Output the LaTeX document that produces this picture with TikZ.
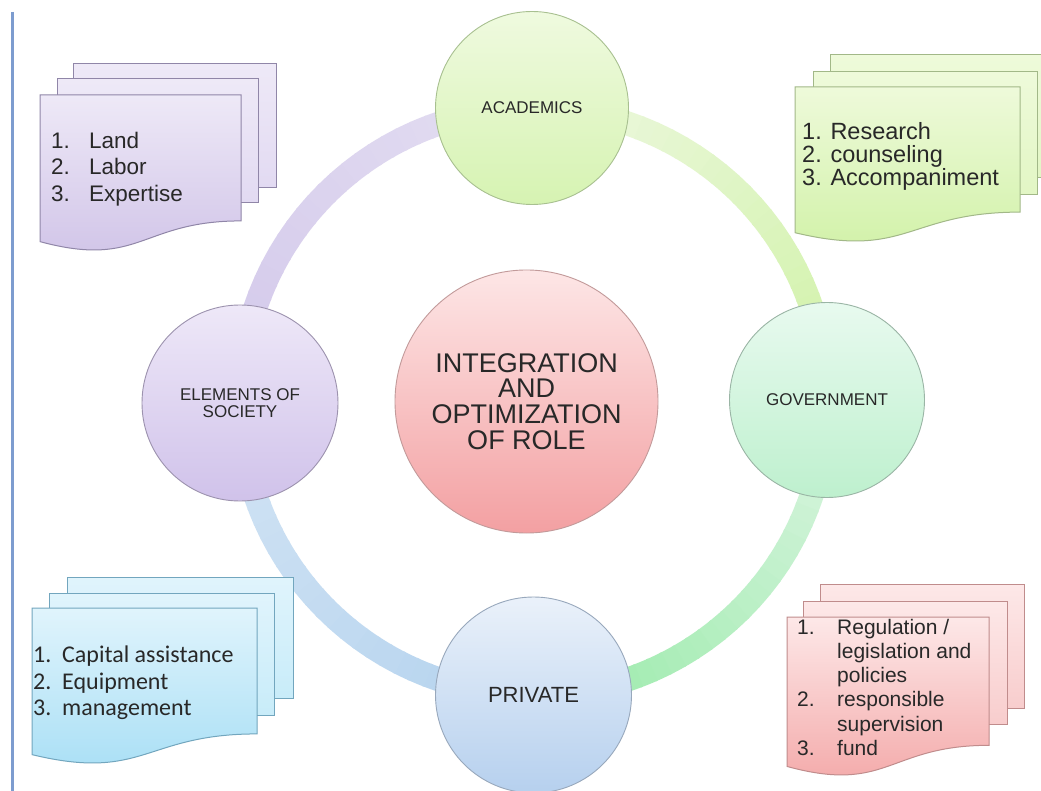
\documentclass[tikz,border=0pt]{standalone}
\usepackage{fontspec}
\setmainfont{Liberation Sans}
\newfontfamily\calib{Carlito}
\definecolor{txt}{HTML}{282828}
% sheets
\definecolor{pB}{HTML}{9086A8}\definecolor{pT}{HTML}{EEE9F7}\definecolor{pM}{HTML}{E2DAF2}\definecolor{pD}{HTML}{CFC2E7}
\definecolor{gB}{HTML}{A2B888}\definecolor{gT}{HTML}{EEFADA}\definecolor{gM}{HTML}{E2F6C4}\definecolor{gD}{HTML}{D0F1A6}
\definecolor{bB}{HTML}{72A6BE}\definecolor{bT}{HTML}{E0F4FC}\definecolor{bM}{HTML}{C8ECF9}\definecolor{bD}{HTML}{A6DEF5}
\definecolor{rB}{HTML}{C08C8C}\definecolor{rT}{HTML}{FDE8E8}\definecolor{rM}{HTML}{F8CDCD}\definecolor{rD}{HTML}{F3A6A6}
% circles
\definecolor{acT}{HTML}{EFFADF}\definecolor{acD}{HTML}{D6F3B2}\definecolor{acB}{HTML}{A8C090}
\definecolor{elT}{HTML}{EEE8F8}\definecolor{elD}{HTML}{D0C2EA}\definecolor{elB}{HTML}{9C92AE}
\definecolor{goT}{HTML}{E8FAEF}\definecolor{goD}{HTML}{BEF0CE}\definecolor{goB}{HTML}{9AB5A5}
\definecolor{prT}{HTML}{EAF1FA}\definecolor{prD}{HTML}{B6D0EE}\definecolor{prB}{HTML}{98A8BC}
\definecolor{ceT}{HTML}{FDE6E6}\definecolor{ceD}{HTML}{F3A0A2}\definecolor{ceB}{HTML}{C29A9A}
% ring
\definecolor{rl1}{HTML}{D2C8EA}\definecolor{rl2}{HTML}{E4DEF2}
\definecolor{ry1}{HTML}{EEF8E2}\definecolor{ry2}{HTML}{D0F2A6}
\definecolor{rg1}{HTML}{DCF5E2}\definecolor{rg2}{HTML}{98EAA8}
\definecolor{rb1}{HTML}{B4D2EE}\definecolor{rb2}{HTML}{D2E4F4}
\definecolor{edge}{HTML}{7D9CCF}

% #1 style, #2 left, #3 top, #4 width, #5 height
\newcommand\frontdoc[5]{%
  \path[#1] (#2,#3) -- ({#2+#4},#3) -- ({#2+#4},{#3+0.802*#5})
    .. controls ({#2+0.5*#4},{#3+0.802*#5}) and ({#2+0.5*#4},{#3+1.107*#5}) ..
    (#2,{#3+0.934*#5}) -- cycle;}
% #1 start angle, #2 end angle, #3 start colour, #4 end colour
\newcommand\ringseg[4]{%
  \foreach \i in {0,...,29}{%
    \pgfmathsetmacro\aa{#1+(#2-#1)*\i/30}%
    \pgfmathsetmacro\bb{#1+(#2-#1)*(\i+1)/30+0.4}%
    \pgfmathtruncatemacro\pp{100-100*\i/29}%
    \draw[ringline, color=#3!\pp!#4] (ctr) ++(\aa:293.5) arc[start angle=\aa, end angle=\bb, radius=293.5];
  }}

\begin{document}
\begin{tikzpicture}[x=1pt,y=-1pt,
  ringline/.style={line width=24pt},
  bubble/.style={circle, inner sep=0pt, line width=0.9pt, align=center, text=txt},
  sheetline/.style={line width=1pt},
  listtext/.style={inner sep=0pt, align=left, text=txt, anchor=west}]
\useasboundingbox (0,0) rectangle (1041,791);
\clip (0,0) rectangle (1041,791);
\fill[white] (0,0) rectangle (1041,791);

% left edge line
\coordinate (e1) at (12,12);
\coordinate (e2) at (12,791);
\draw[edge, line width=3pt] (e1) -- (e2);

% ring
\coordinate (ctr) at (533.5,401.5);
\ringseg{180}{270}{rl1}{rl2}
\ringseg{270}{360}{ry1}{ry2}
\ringseg{0}{90}{rg1}{rg2}
\ringseg{90}{180}{rb1}{rb2}

% circles
\node[bubble, minimum size=263pt, draw=ceB, top color=ceT, bottom color=ceD,
      font=\fontsize{27}{25.7}\selectfont] (center) at (526.5,401.5)
      {INTEGRATION\\AND\\OPTIMIZATION\\OF ROLE};
\node[bubble, minimum size=193pt, draw=acB, top color=acT, bottom color=acD,
      font=\fontsize{17}{17}\selectfont] (acad) at (532,108) {ACADEMICS};
\node[bubble, minimum size=196pt, draw=elB, top color=elT, bottom color=elD,
      font=\fontsize{17}{17}\selectfont] (elem) at (240,403) {ELEMENTS OF\\SOCIETY};
\node[bubble, minimum size=195pt, draw=goB, top color=goT, bottom color=goD,
      font=\fontsize{17}{17}\selectfont] (gov) at (827,400) {GOVERNMENT};
\node[bubble, minimum size=196pt, draw=prB, top color=prT, bottom color=prD,
      font=\fontsize{22}{22}\selectfont] (priv) at (533.5,695) {PRIVATE};

% top-left sheets (purple)
\path[sheetline, draw=pB, top color=pT, bottom color=pM] (73,64) rectangle (276,188);
\path[sheetline, draw=pB, top color=pT, bottom color=pM] (57,79) rectangle (258,203);
\frontdoc{sheetline, draw=pB, top color=pT, bottom color=pD}{40}{95}{201}{157}
\node[listtext, font=\fontsize{22.5}{26.5}\selectfont] (tltext) at (51,168.8)
  {\makebox[38pt][l]{1.}Land\\\makebox[38pt][l]{2.}Labor\\\makebox[38pt][l]{3.}Expertise};

% top-right sheets (green)
\path[sheetline, draw=gB, top color=gT, bottom color=gM] (830,55) rectangle (1055,178);
\path[sheetline, draw=gB, top color=gT, bottom color=gM] (813,72) rectangle (1037,195);
\frontdoc{sheetline, draw=gB, top color=gT, bottom color=gD}{795}{87}{225}{156}
\node[listtext, font=\fontsize{23.5}{23}\selectfont] (trtext) at (802,156.8)
  {1. Research\\2. counseling\\3. Accompaniment};

% bottom-left sheets (blue)
\path[sheetline, draw=bB, top color=bT, bottom color=bM] (67,577) rectangle (293,698);
\path[sheetline, draw=bB, top color=bT, bottom color=bM] (49,593) rectangle (274,715);
\frontdoc{sheetline, draw=bB, top color=bT, bottom color=bD}{32}{608}{225}{157}
\node[listtext, font=\calib\fontsize{24}{26.5}\selectfont] (bltext) at (33,683.2)
  {\makebox[29pt][l]{1.}Capital assistance\\\makebox[29pt][l]{2.}Equipment\\\makebox[29pt][l]{3.}management};

% bottom-right sheets (red)
\path[sheetline, draw=rB, top color=rT, bottom color=rM] (820,584) rectangle (1024,708);
\path[sheetline, draw=rB, top color=rT, bottom color=rM] (803,601) rectangle (1007,724);
\frontdoc{sheetline, draw=rB, top color=rT, bottom color=rD}{787}{617}{202}{160}
\node[listtext, font=\fontsize{21}{24.2}\selectfont] (brtext) at (797,687.3)
  {\makebox[40pt][l]{1.}Regulation /\\\hspace*{40pt}legislation and\\\hspace*{40pt}policies\\
   \makebox[40pt][l]{2.}responsible\\\hspace*{40pt}supervision\\\makebox[40pt][l]{3.}fund};
\end{tikzpicture}
\end{document}
